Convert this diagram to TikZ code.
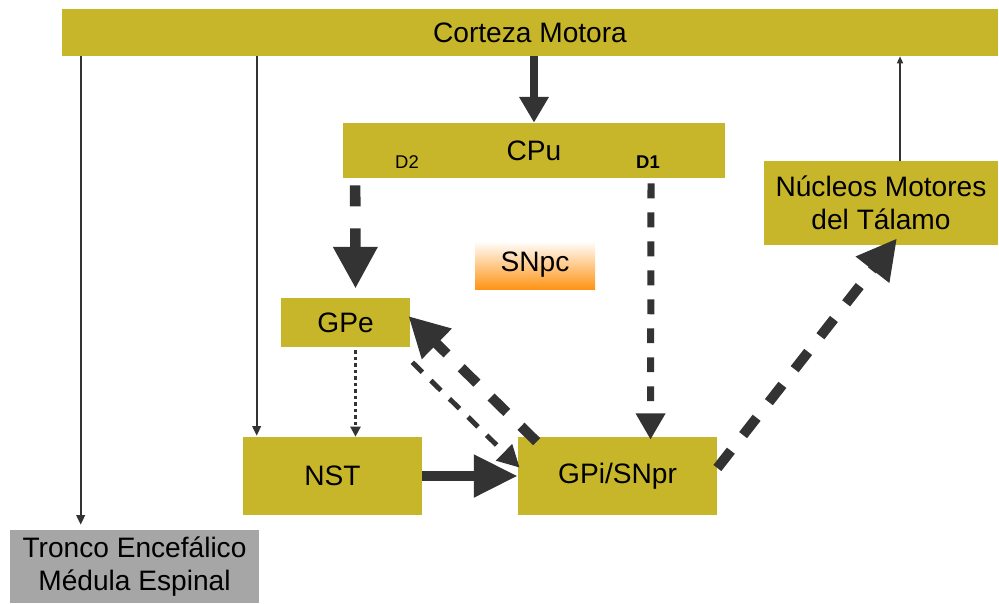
\documentclass[tikz,border=0pt]{standalone}
\usepackage{fontspec}
\setmainfont{Liberation Sans}
\usepackage{tikz}
\usetikzlibrary{arrows.meta, calc}

\definecolor{oliva}{HTML}{C8B62A}
\definecolor{gris}{HTML}{A6A6A6}
\definecolor{flecha}{HTML}{333333}
\definecolor{naranja}{HTML}{FF9416}

\begin{document}
\begin{tikzpicture}[x=0.02cm, y=-0.02cm,
    box/.style={rectangle, fill=oliva, inner sep=0pt, align=center, font=\fontsize{16}{18.5}\selectfont},
    thinarrow/.style={draw=flecha, line width=1pt, -{Triangle[length=5.5pt, width=5pt]}},
    bigdash/.style={draw=flecha, line width=5.7pt, dash pattern=on 12.5pt off 11.3pt, -{Triangle[length=22.7pt, width=22.7pt]}}]

    \useasboundingbox (0,0) rectangle (999,603);

    % Nodes for cortex, striatum and nuclei
    \node (corteza) [box, minimum width=18.72cm, minimum height=0.94cm] at (530,32.5) {Corteza Motora};
    \node (cpu) [box, minimum width=7.64cm, minimum height=1.1cm] at (534,150.5) {\raisebox{-1pt}{CPu}};
    \node (d2) [font=\fontsize{10.5}{12}\selectfont] at (407,162) {D2};
    \node (d1) [font=\bfseries\fontsize{10.5}{12}\selectfont] at (648,162) {D1};
    \node (snpc) [box, fill=none, top color=white, bottom color=naranja, minimum width=2.4cm, minimum height=0.96cm] at (535,265) {SNpc};
    \node (gpe) [box, minimum width=2.58cm, minimum height=0.98cm] at (345.5,322.5) {GPe};
    \node (nst) [box, minimum width=3.58cm, minimum height=1.56cm] at (332.5,476) {NST};
    \node (gpi) [box, minimum width=3.98cm, minimum height=1.56cm] at (617.5,476) {GPi/SNpr};
    \node (talamo) [box, minimum width=4.68cm, minimum height=1.68cm] at (881,203) {Núcleos Motores\\del Tálamo};
    \node (tronco) [box, fill=gris, minimum width=4.98cm, minimum height=1.46cm] at (134.5,566.5) {Tronco Encefálico\\Médula Espinal};

    % Points where the straight connectors meet the boxes
    \coordinate (tr) at ($(tronco.north west)+(71,-5)$);
    \coordinate (ns) at ($(nst.north west)+(14,-1)$);
    \coordinate (ta) at ($(talamo.north)+(19,0)$);
    \coordinate (ge) at ($(gpe.south)+(10,3)$);
    \coordinate (dd) at ($(cpu.south west)+(12.5,7)$);
    \coordinate (du) at ($(cpu.south east)+(-74.3,5)$);

    % Thin arrows from and to the cortex
    \draw[thinarrow] (corteza.south -| tr) -- (tr);
    \draw[thinarrow] (corteza.south -| ns) -- (ns);
    \draw[thinarrow, line width=0.7pt, -{Triangle[length=4pt, width=3.5pt]}] (ta) -- (corteza.south -| ta);

    % Cortex to CPu
    \draw[draw=flecha, line width=4.5pt, -{Triangle[length=14.7pt, width=16pt]}] (corteza.south -| cpu.north) -- (cpu.north);

    % D2 and D1 pathways
    \draw[draw=flecha, line width=6pt, dash pattern=on 12pt off 12.5pt, -{Triangle[length=23.8pt, width=23.8pt]}] (dd) -- ($(gpe.north)+(10,-9)$);
    \draw[draw=flecha, line width=4pt, dash pattern=on 8.5pt off 8pt, -{Triangle[length=15pt, width=16pt]}] (du) -- ($(gpi.north)+(33,3)$);

    % GPe, NST and GPi/SNpr
    \draw[draw=flecha, line width=1.3pt, dash pattern=on 2pt off 1.7pt, -{Triangle[length=5.7pt, width=5.7pt]}] (ge) -- (nst.north -| ge);
    \draw[draw=flecha, line width=2.8pt, dash pattern=on 8pt off 6.8pt, -{Triangle[length=12.5pt, width=12.5pt]}] ($(gpe.south east)+(2,15)$) -- ($(gpi.north west)+(2,31)$);
    \draw[bigdash] ($(gpi.north west)+(19,5)$) -- ($(gpe.east)+(-2,-6.5)$);
    \draw[draw=flecha, line width=5.7pt, -{Triangle[length=25pt, width=23pt]}] (nst.east) -- (gpi.west);

    % Output to the thalamus
    \draw[bigdash] ($(gpi.east)+(0,-8)$) -- ($(talamo.south)+(16,-7)$);

\end{tikzpicture}
\end{document}
